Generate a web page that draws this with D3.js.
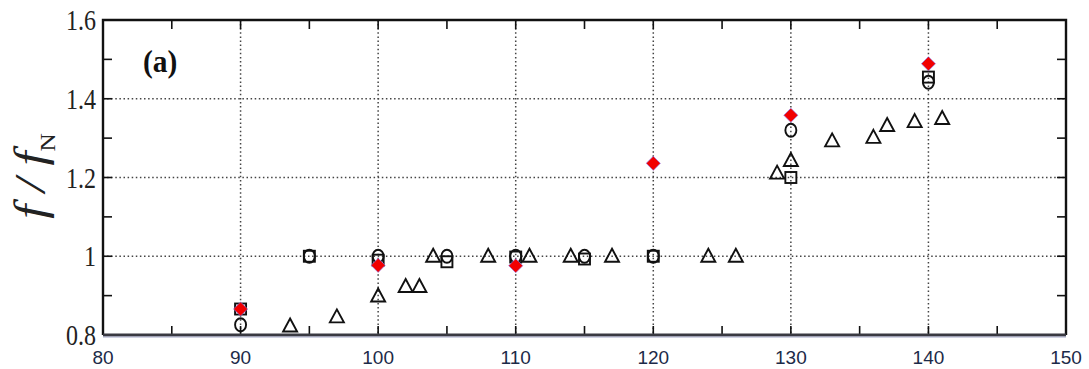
<!DOCTYPE html>
<html>
<head>
<meta charset="utf-8">
<script src="https://cdn.jsdelivr.net/npm/d3@7"></script>
<style>
  body { margin: 0; background: #fff; }
  svg { display: block; }
</style>
</head>
<body>
<svg id="chart" width="1089" height="369"></svg>
<script>
// values
const xTicks = [80, 90, 100, 110, 120, 130, 140, 150];
const yTicks = [0.8, 1.0, 1.2, 1.4, 1.6];
const yTickLabels = ["0.8", "1", "1.2", "1.4", "1.6"];
const gridX = [90, 100, 110, 120, 130, 140];
const gridY = [1.0, 1.2, 1.4];

const triangleX = [93.6, 97, 100, 102, 103, 104, 108, 111, 114, 117, 124, 126, 129, 130, 133, 136, 137, 139, 141];
const triangleY = [0.823, 0.846, 0.899, 0.923, 0.923, 1.0, 1.0, 1.0, 1.0, 1.0, 1.0, 1.0, 1.211, 1.243, 1.293, 1.302, 1.332, 1.342, 1.35];
const squareX = [90, 95, 100, 105, 110, 115, 120, 130, 140];
const squareY = [0.866, 1.0, 0.99, 0.986, 0.998, 0.993, 1.0, 1.2, 1.455];
const circleX = [90, 95, 100, 105, 110, 115, 120, 130, 140];
const circleY = [0.826, 1.0, 1.0, 1.0, 1.0, 1.0, 1.0, 1.32, 1.442];
const diamondX = [90, 100, 110, 120, 130, 140];
const diamondY = [0.866, 0.977, 0.976, 1.236, 1.358, 1.489];

const svg = d3.select("#chart");
const m = {left: 103, right: 1066, top: 20, bottom: 335};

const x = d3.scaleLinear().domain([80, 150]).range([m.left, m.right]);
const y = d3.scaleLinear().domain([0.8, 1.6]).range([m.bottom, m.top]);

// dotted grid
svg.append("g").selectAll("line").data(gridX).join("line")
  .attr("x1", d => x(d)).attr("x2", d => x(d))
  .attr("y1", m.top).attr("y2", m.bottom)
  .attr("stroke", "#444").attr("stroke-width", 1.5).attr("stroke-dasharray", "1.5,2.6");
svg.append("g").selectAll("line").data(gridY).join("line")
  .attr("y1", d => y(d)).attr("y2", d => y(d))
  .attr("x1", m.left).attr("x2", m.right)
  .attr("stroke", "#444").attr("stroke-width", 1.5).attr("stroke-dasharray", "1.5,2.6");

// inner ticks on all four sides
const tl = 9;
const xMinor = d3.range(80, 151, 5);
const yMinor = d3.range(0.8, 1.601, 0.1);
const tk = svg.append("g").attr("stroke", "#111").attr("stroke-width", 1.6);
tk.selectAll(".tb").data(xMinor).join("line")
  .attr("x1", d => x(d)).attr("x2", d => x(d)).attr("y1", m.bottom).attr("y2", m.bottom - tl);
tk.selectAll(".tt").data(xMinor).join("line")
  .attr("x1", d => x(d)).attr("x2", d => x(d)).attr("y1", m.top).attr("y2", m.top + tl);
tk.selectAll(".tl").data(yMinor).join("line")
  .attr("y1", d => y(d)).attr("y2", d => y(d)).attr("x1", m.left).attr("x2", m.left + tl);
tk.selectAll(".tr").data(yMinor).join("line")
  .attr("y1", d => y(d)).attr("y2", d => y(d)).attr("x1", m.right).attr("x2", m.right - tl);

// frame
svg.append("path")
  .attr("d", `M${m.left},${m.bottom}V${m.top}H${m.right}V${m.bottom}`)
  .attr("fill", "none").attr("stroke", "#111").attr("stroke-width", 2.4);
svg.append("line").attr("x1", m.left).attr("x2", m.right).attr("y1", m.bottom).attr("y2", m.bottom)
  .attr("stroke", "#3a3a42").attr("stroke-width", 3);
svg.append("line").attr("x1", m.left).attr("x2", m.right).attr("y1", m.bottom + 2).attr("y2", m.bottom + 2)
  .attr("stroke", "#a4a8c8").attr("stroke-width", 1);

// x tick labels
svg.append("g").selectAll("text").data(xTicks).join("text")
  .attr("x", d => x(d)).attr("y", 364)
  .attr("text-anchor", "middle")
  .attr("font-family", "Liberation Sans, Arial, sans-serif").attr("font-size", 19)
  .attr("fill", "#1c2a48")
  .text(d => d);

// y tick labels (narrow, tall serif as in the scan)
svg.append("g").selectAll("text").data(yTicks).join("text")
  .attr("transform", d => `translate(96,${y(d) + 10}) scale(0.8,1)`)
  .attr("text-anchor", "end")
  .attr("font-family", "Liberation Serif, Times New Roman, serif").attr("font-size", 30)
  .attr("fill", "#222")
  .text((d, i) => yTickLabels[i]);

// y axis title
const yt = svg.append("text")
  .attr("transform", "translate(45,176) rotate(-90) scale(1.15,1)")
  .attr("text-anchor", "middle")
  .attr("font-family", "Liberation Serif, Times New Roman, serif")
  .attr("font-size", 44).attr("font-style", "italic").attr("fill", "#222");
yt.append("tspan").text("f / f");
yt.append("tspan").attr("font-size", 22).attr("font-style", "normal").attr("dy", 10).text("N");

// panel label
svg.append("text").attr("transform", "translate(143,72) scale(0.95,1.05)")
  .attr("font-family", "Liberation Serif, Times New Roman, serif")
  .attr("font-size", 31).attr("font-weight", "bold").attr("fill", "#111")
  .text("(a)");

// markers
const mk = svg.append("g");
mk.selectAll(".tri").data(triangleX).join("path")
  .attr("transform", (d, i) => `translate(${x(d)},${y(triangleY[i])})`)
  .attr("d", "M0,-7.5L7,5.5L-7,5.5Z")
  .attr("fill", "none").attr("stroke", "#111").attr("stroke-width", 1.9);
mk.selectAll(".sq").data(squareX).join("rect")
  .attr("x", d => x(d) - 5.5).attr("y", (d, i) => y(squareY[i]) - 5.5)
  .attr("width", 11).attr("height", 11)
  .attr("fill", "none").attr("stroke", "#111").attr("stroke-width", 1.9);
mk.selectAll(".ci").data(circleX).join("ellipse")
  .attr("cx", d => x(d)).attr("cy", (d, i) => y(circleY[i]))
  .attr("rx", 5.5).attr("ry", 6.5)
  .attr("fill", "none").attr("stroke", "#111").attr("stroke-width", 1.9);
mk.selectAll(".di").data(diamondX).join("path")
  .attr("d", d3.symbol(d3.symbolSquare, 100)())
  .attr("transform", (d, i) => `translate(${x(d)},${y(diamondY[i])}) rotate(45)`)
  .attr("fill", "#f20000").attr("stroke", "#8a7cf0").attr("stroke-width", 0.6);
</script>
</body>
</html>
